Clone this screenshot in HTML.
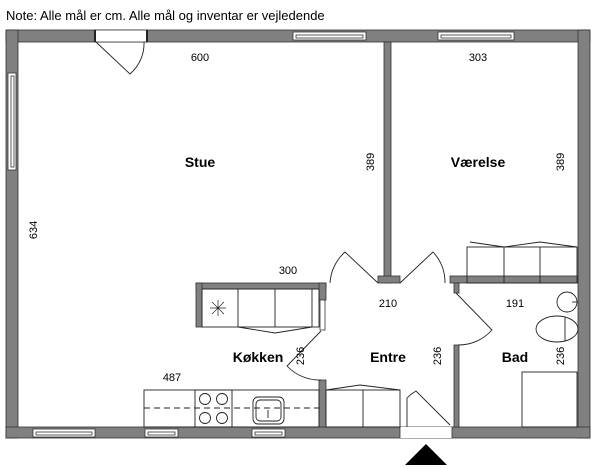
<!DOCTYPE html>
<html><head><style>body{margin:0;background:#fff}svg{display:block}text{font-family:"Liberation Sans",sans-serif;fill:#000}</style></head><body>
<svg width="600" height="469" viewBox="0 0 600 469" xmlns="http://www.w3.org/2000/svg">
<text x="6" y="20" font-size="13">Note: Alle mål er cm. Alle mål og inventar er vejledende</text>
<g fill="#808080" stroke="#333" stroke-width="0.8">
<rect x="6" y="30" width="584" height="12"/>
<rect x="6" y="30" width="12" height="408"/>
<rect x="578" y="30" width="12" height="408"/>
<rect x="6" y="427" width="584" height="11"/>
<rect x="384" y="42" width="7" height="241"/>
<rect x="378" y="276" width="22" height="7"/>
<rect x="450" y="276" width="128" height="7"/>
<rect x="196" y="283" width="130" height="6"/>
<rect x="196" y="283" width="6" height="44"/>
<rect x="319" y="283" width="7" height="17"/>
<rect x="320" y="300" width="5" height="30" fill="#fff"/>
<rect x="454" y="283" width="5" height="10"/>
<rect x="454" y="345" width="5" height="82"/>
<rect x="319" y="380" width="7" height="47"/>
</g>
<g fill="#fff" stroke="#333" stroke-width="0.8">
<rect x="95" y="30" width="52" height="12"/>
<rect x="293" y="32" width="73" height="8"/><rect x="296" y="35" width="67" height="3"/>
<rect x="438" y="32" width="76" height="8"/><rect x="441" y="35" width="70" height="3"/>
<rect x="8" y="73" width="8" height="97"/><rect x="11" y="76" width="3" height="91"/>
<rect x="33" y="429" width="62" height="8"/><rect x="36" y="432" width="56" height="3"/>
<rect x="145" y="429" width="33" height="8"/><rect x="148" y="432" width="27" height="3"/>
<rect x="252" y="429" width="33" height="8"/><rect x="255" y="432" width="27" height="3"/>
<rect x="400" y="427" width="52" height="11" stroke="none"/>
<line x1="400" y1="427" x2="400" y2="438"/><line x1="452" y1="427" x2="452" y2="438"/>
</g>
<g fill="none" stroke="#222" stroke-width="0.9">
<path d="M96 42 L130 74 A40 40 0 0 0 144 42"/>
<line x1="95" y1="30" x2="95" y2="42" stroke-width="2"/><line x1="147" y1="30" x2="147" y2="42" stroke-width="2"/>
<path d="M330 283 A45 45 0 0 1 345 252 L378 283"/>
<path d="M400 283 L433 252 A45 45 0 0 1 445 283"/>
<path d="M456 293 L492 330 A45 45 0 0 1 458 345"/>
<path d="M321 331 L287 366 A45 45 0 0 0 321 380"/>
<path d="M407 427 L407 398 A40 40 0 0 1 416 391 L450 425"/>
<rect x="202" y="289" width="117" height="38"/>
<line x1="238" y1="289" x2="238" y2="327"/><line x1="275" y1="289" x2="275" y2="327"/><line x1="312" y1="289" x2="312" y2="327"/>
<path d="M238 327 L275 333 L312 327"/>
<path d="M210 308 h16 M218 300 v16 M212 302 l12 12 M224 302 l-12 12" stroke-width="0.7"/>
<rect x="144" y="390" width="175" height="37"/>
<line x1="144" y1="408" x2="319" y2="408" stroke-dasharray="6,4"/>
<rect x="195" y="390" width="37" height="37"/>
<circle cx="205" cy="399" r="5.5"/><circle cx="222" cy="399" r="5.5"/><circle cx="205" cy="418" r="5.5"/><circle cx="222" cy="418" r="5.5"/>
<rect x="253" y="397" width="31" height="27" rx="5"/><rect x="256" y="400" width="25" height="21" rx="4"/>
<line x1="268" y1="410" x2="268" y2="418"/>
<rect x="326" y="390" width="74" height="37"/><line x1="363" y1="390" x2="363" y2="427"/>
<path d="M326 390 L360 385 L400 390"/>
<rect x="467" y="247" width="110" height="36"/>
<line x1="504" y1="247" x2="504" y2="283"/><line x1="540" y1="247" x2="540" y2="283"/>
<path d="M470 242 L504 247 L540 242 L577 247"/>
<rect x="522" y="372" width="55" height="55"/>
<ellipse cx="557" cy="329" rx="21" ry="13"/><line x1="565" y1="317" x2="565" y2="341"/>
<circle cx="567" cy="302" r="10"/><line x1="572" y1="302" x2="577" y2="302"/>
</g>
<polygon points="405,465 426,444 447,465" fill="#000"/>
<g font-size="11" text-anchor="middle">
<text x="200" y="61">600</text><text x="478" y="61">303</text>
<text x="288" y="274">300</text><text x="388" y="307">210</text><text x="515" y="307">191</text>
<text x="172" y="381">487</text>
<text transform="translate(374,162) rotate(-90)">389</text>
<text transform="translate(564,162) rotate(-90)">389</text>
<text transform="translate(37,230) rotate(-90)">634</text>
<text transform="translate(304,356) rotate(-90)">236</text>
<text transform="translate(441,356) rotate(-90)">236</text>
<text transform="translate(564,356) rotate(-90)">236</text>
</g>
<g font-size="14" font-weight="bold" text-anchor="middle">
<text x="200" y="167">Stue</text><text x="478" y="167">Værelse</text>
<text x="258" y="362">Køkken</text><text x="388" y="362">Entre</text><text x="515" y="362">Bad</text>
</g>
</svg>
</body></html>
